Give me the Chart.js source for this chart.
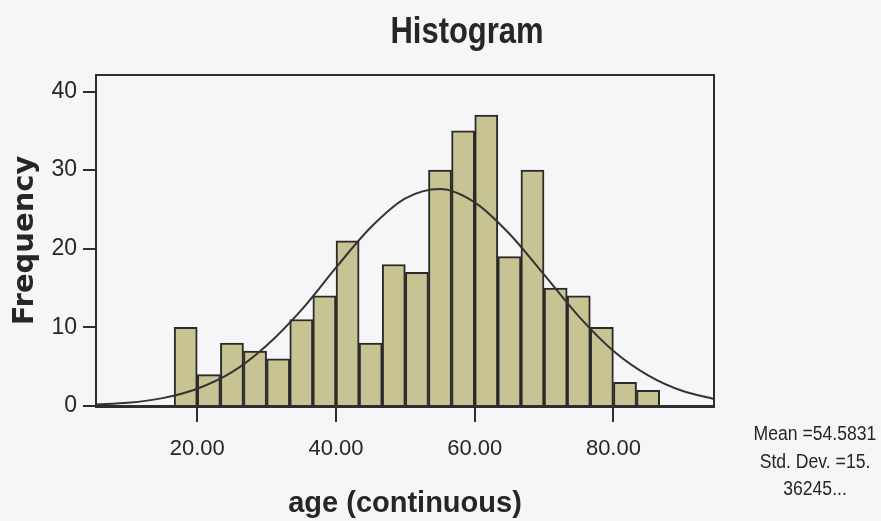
<!DOCTYPE html>
<html>
<head>
<meta charset="utf-8">
<title>Histogram</title>
<script src="https://cdn.jsdelivr.net/npm/chart.js@4.4.1/dist/chart.umd.min.js"></script>
<style>
  html, body { margin: 0; padding: 0; background: #f6f6f8; }
  #histogram { display: block; }
</style>
</head>
<body>
<canvas id="histogram" width="881" height="521"></canvas>
<script>
// bin centres of the age histogram (bins are 3.33 wide)
const binCenters = [18.33, 21.67, 25, 28.33, 31.67, 35, 38.33, 41.67, 45, 48.33, 51.67,
                    55, 58.33, 61.67, 65, 68.33, 71.67, 75, 78.33, 81.67, 85];
const frequencies = [10, 4, 8, 7, 6, 11, 14, 21, 8, 18, 17,
                     30, 35, 37, 19, 30, 15, 14, 10, 3, 2];

// normal curve
const curveAges   = [5.4, 10, 15, 20, 25, 30, 35, 40, 45, 50, 55, 60, 65, 70, 75, 80, 85, 90, 94.5];
const curveValues = [0.2, 0.4, 1.0, 2.2, 4.3, 7.7, 12.2, 17.6, 22.7, 26.4, 27.6, 25.9, 21.9, 16.7, 11.4, 7.0, 3.9, 1.9, 0.9];

const xTicks = [20, 40, 60, 80];
const yTicks = [0, 10, 20, 30, 40];

const chartTitle = 'Histogram';
const xTitle = 'age (continuous)';
const yTitle = 'Frequency';
const statLines = ['Mean =54.5831', 'Std. Dev. =15.', '36245...'];

const sans = "'Liberation Sans', Arial, sans-serif";
const inkColor = '#262626';

// the original uses a narrow face, so squeeze free text sideways
const drawNarrow = (ctx, text, x, y, squeeze) => {
    ctx.save();
    ctx.translate(x, y);
    ctx.scale(squeeze, 1);
    ctx.fillText(text, 0, 0);
    ctx.restore();
};

const frameAndText = {
    id: 'frameAndText',
    beforeDraw(chart) {
        const {ctx, width, height} = chart;
        ctx.save();
        ctx.fillStyle = '#f6f6f8';
        ctx.fillRect(0, 0, width, height);
        ctx.restore();
    },
    afterDraw(chart) {
        const {ctx, chartArea} = chart;
        ctx.save();
        // box round the plot
        ctx.strokeStyle = '#2e2e2e';
        ctx.lineWidth = 2;
        ctx.strokeRect(chartArea.left, chartArea.top, chartArea.right - chartArea.left, chartArea.bottom - chartArea.top);

        ctx.fillStyle = inkColor;
        ctx.textAlign = 'center';
        ctx.textBaseline = 'alphabetic';
        ctx.font = 'bold 36px ' + sans;
        drawNarrow(ctx, chartTitle, 467, 43, 0.86);

        ctx.font = '20px ' + sans;
        statLines.forEach((line, i) => {
            drawNarrow(ctx, line, 815, 440 + i * 27.5, 0.88);
        });
        ctx.restore();
    }
};

const chart = new Chart(
    document.getElementById('histogram'),
    {
        type: 'bar',
        data: {
            datasets: [
                {
                    type: 'line',
                    data: curveAges.map((x, i) => ({x: x, y: curveValues[i]})),
                    borderColor: '#333333',
                    borderWidth: 2,
                    pointRadius: 0,
                    cubicInterpolationMode: 'monotone',
                    fill: false,
                    order: 0
                },
                {
                    type: 'bar',
                    data: binCenters.map((x, i) => ({x: x, y: frequencies[i]})),
                    backgroundColor: 'rgb(199, 195, 147)',
                    borderColor: '#2a2a2a',
                    borderWidth: 2,
                    barPercentage: 1,
                    categoryPercentage: 1,
                    order: 1
                }
            ]
        },
        options: {
            responsive: false,
            animation: false,
            layout: {
                padding: {top: 75, right: 167, bottom: 0, left: 0}
            },
            plugins: {
                legend: {display: false},
                tooltip: {enabled: false},
                title: {display: false}
            },
            scales: {
                x: {
                    type: 'linear',
                    min: 5.4,
                    max: 94.5,
                    offset: false,
                    afterBuildTicks: (scale) => {
                        scale.ticks = xTicks.map(v => ({value: v}));
                    },
                    afterFit: (scale) => {
                        scale.height = 115;
                    },
                    grid: {
                        offset: false,
                        drawOnChartArea: false,
                        drawTicks: true,
                        tickLength: 16,
                        tickColor: '#2e2e2e',
                        lineWidth: 2
                    },
                    border: {color: '#2e2e2e', width: 3},
                    ticks: {
                        padding: 14,
                        color: inkColor,
                        font: {family: sans, size: 22},
                        maxRotation: 0,
                        callback: (v) => Number(v).toFixed(2)
                    },
                    title: {
                        display: true,
                        text: xTitle,
                        color: inkColor,
                        font: {family: sans, size: 29, weight: 'bold'},
                        padding: {top: 0, bottom: 0}
                    }
                },
                y: {
                    min: 0,
                    max: 42.1,
                    afterBuildTicks: (scale) => {
                        scale.ticks = yTicks.map(v => ({value: v}));
                    },
                    afterFit: (scale) => {
                        scale.width = 96;
                    },
                    grid: {
                        drawOnChartArea: false,
                        drawTicks: true,
                        tickLength: 13,
                        tickColor: '#2e2e2e',
                        lineWidth: 2
                    },
                    border: {color: '#2e2e2e', width: 2},
                    ticks: {
                        padding: 6,
                        color: inkColor,
                        font: {family: sans, size: 23}
                    },
                    title: {
                        display: true,
                        text: yTitle,
                        color: inkColor,
                        font: {family: "'DejaVu Sans', sans-serif", size: 29, weight: 'bold'},
                        padding: {top: 8, bottom: 0}
                    }
                }
            }
        },
        plugins: [frameAndText]
    }
);
</script>
</body>
</html>
